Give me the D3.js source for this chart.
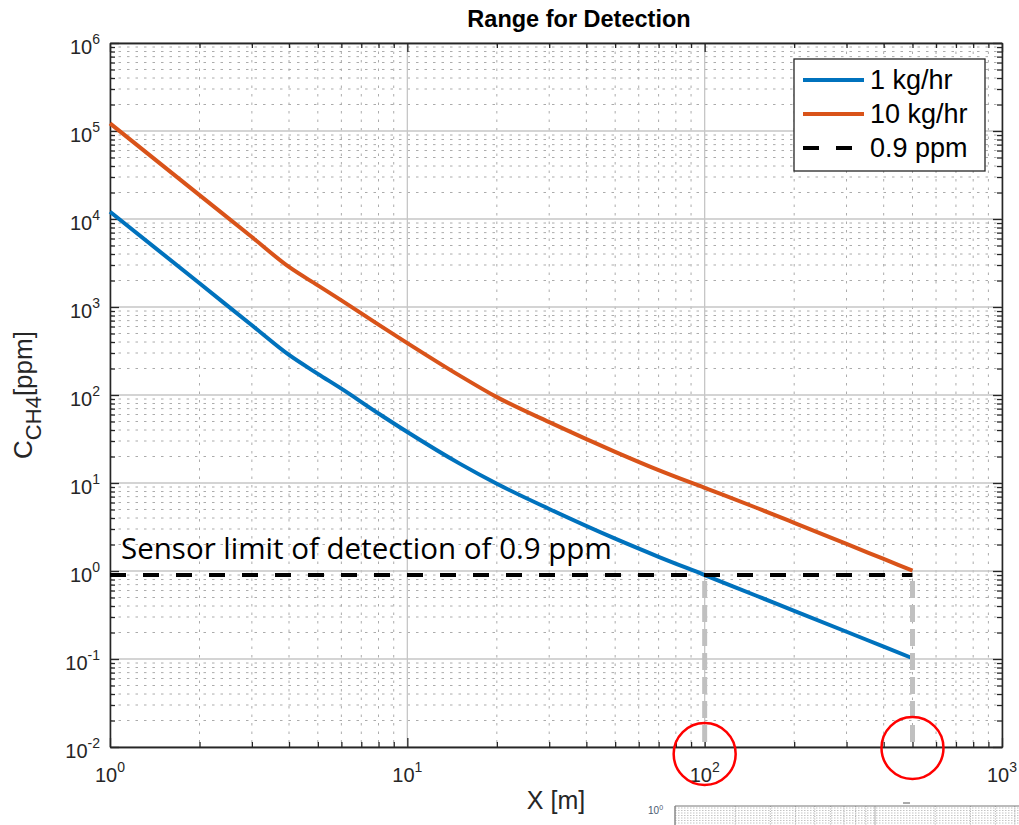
<!DOCTYPE html>
<html>
<head>
<meta charset="utf-8">
<script src="https://cdn.jsdelivr.net/npm/d3@7"></script>
<style>
    body { margin: 0; background: #fff; }
    svg { display: block; }
</style>
</head>
<body>
<div class="chart"></div>
<script>
// distances [m] and concentrations [ppm]
var distance = [1, 2, 3, 4, 5, 6, 8, 10, 15, 20, 30, 50, 70, 100, 150, 200, 300, 400, 500];
var conc_1kg = [12100, 1860, 620, 285, 174, 118, 61.7, 38, 16.6, 9.8, 5.07, 2.33, 1.45, 0.9, 0.52, 0.353, 0.204, 0.138, 0.102];
var conc_10kg = [122000, 18700, 6240, 2850, 1760, 1190, 630, 389, 166, 94.6, 49.1, 22.6, 14.0, 8.8, 5.2, 3.53, 2.03, 1.37, 1.01];
var series_names = ["1 kg/hr", "10 kg/hr"];
var series_colors = ["#0072BD", "#D95319"];
var limit_ppm = 0.9;
var limit_label = "Sensor limit of detection of 0.9 ppm";
var limit_name = "0.9 ppm";
var range_marks = [100, 500];
var x_decades = [1, 10, 100, 1000];
var y_decades = [1e-2, 1e-1, 1, 1e1, 1e2, 1e3, 1e4, 1e5, 1e6];

var margin = { top: 43, right: 17, bottom: 78, left: 110 },
    width = 1019 - margin.left - margin.right,
    height = 825 - margin.top - margin.bottom;

var font = "'Liberation Sans', Arial, Helvetica, sans-serif";

var root = d3.select(".chart")
    .append("svg")
    .attr("width", 1019)
    .attr("height", 825);

var svg = root.append("g")
    .attr("transform", "translate(" + margin.left + "," + margin.top + ")");

var x = d3.scaleLog().domain([1, 1000]).range([0, width]);
var y = d3.scaleLog().domain([1e-2, 1e6]).range([height, 0]);

function minors(decades) {
    var out = [];
    for (var i = 0; i < decades.length - 1; i++) {
        for (var k = 2; k <= 9; k++) out.push(k * decades[i]);
    }
    return out;
}
var x_minor = minors(x_decades);
var y_minor = minors(y_decades);

// minor grid (dotted)
svg.selectAll(".xminor").data(x_minor).enter().append("line")
    .attr("x1", d => x(d)).attr("x2", d => x(d))
    .attr("y1", 0).attr("y2", height)
    .attr("stroke", "#ababab").attr("stroke-width", 1)
    .attr("stroke-dasharray", "2.5,6");
svg.selectAll(".yminor").data(y_minor).enter().append("line")
    .attr("x1", 0).attr("x2", width)
    .attr("y1", d => y(d)).attr("y2", d => y(d))
    .attr("stroke", "#ababab").attr("stroke-width", 1)
    .attr("stroke-dasharray", "2.5,6");

// major grid
svg.selectAll(".xmajor").data(x_decades).enter().append("line")
    .attr("x1", d => x(d)).attr("x2", d => x(d))
    .attr("y1", 0).attr("y2", height)
    .attr("stroke", "#c6c6c6").attr("stroke-width", 1.3);
svg.selectAll(".ymajor").data(y_decades).enter().append("line")
    .attr("x1", 0).attr("x2", width)
    .attr("y1", d => y(d)).attr("y2", d => y(d))
    .attr("stroke", "#c6c6c6").attr("stroke-width", 1.3);

// axes, ticks pointing inward on all four sides
function tickAxis(axis, values, size) {
    return axis.tickValues(values).tickSize(-size).tickSizeOuter(0).tickFormat("");
}
var axes = [
    [function () { return d3.axisBottom(x); }, "translate(0," + height + ")"],
    [function () { return d3.axisTop(x); }, "translate(0,0)"],
    [function () { return d3.axisLeft(y); }, "translate(0,0)"],
    [function () { return d3.axisRight(y); }, "translate(" + width + ",0)"]
];
axes.forEach((a, i) => {
    var major = i < 2 ? x_decades : y_decades;
    var minor = i < 2 ? x_minor : y_minor;
    svg.append("g").attr("transform", a[1]).call(tickAxis(a[0](), minor, 5));
    svg.append("g").attr("transform", a[1]).call(tickAxis(a[0](), major, 9));
});
svg.selectAll(".domain, .tick line").attr("stroke", "#262626").attr("stroke-width", 1.3);

// tick labels with superscript exponents
var ylab = svg.selectAll(".ylab").data(y_decades).enter().append("text")
    .attr("x", -10).attr("y", d => y(d) + 11)
    .attr("text-anchor", "end")
    .style("font-family", font).style("font-size", "20px").attr("fill", "#262626");
ylab.append("tspan").text("10");
ylab.append("tspan").attr("dy", -10).style("font-size", "14px")
    .text(d => String(Math.round(Math.log10(d))));

var xlab = svg.selectAll(".xlab").data(x_decades).enter().append("text")
    .attr("x", d => x(d)).attr("y", height + 35)
    .attr("text-anchor", "middle")
    .style("font-family", font).style("font-size", "20px").attr("fill", "#262626");
xlab.append("tspan").text("10");
xlab.append("tspan").attr("dy", -10).style("font-size", "14px")
    .text(d => String(Math.round(Math.log10(d))));

// data lines
var line = d3.line()
    .curve(d3.curveMonotoneX)
    .x(d => x(d[0]))
    .y(d => y(d[1]));

[conc_1kg, conc_10kg].forEach((vals, i) => {
    svg.append("path")
        .datum(distance.map((d, j) => [d, vals[j]]))
        .attr("d", line)
        .attr("fill", "none")
        .attr("stroke", series_colors[i])
        .attr("stroke-width", 4)
        .attr("stroke-linejoin", "round");
});

// detection limit
svg.append("line")
    .attr("x1", x(distance[0])).attr("x2", x(distance[distance.length - 1]))
    .attr("y1", y(limit_ppm)).attr("y2", y(limit_ppm))
    .attr("stroke", "#000").attr("stroke-width", 4)
    .attr("stroke-dasharray", "16,17");

// range markers
svg.selectAll(".range").data(range_marks).enter().append("line")
    .attr("x1", d => x(d)).attr("x2", d => x(d))
    .attr("y1", y(limit_ppm) + 6).attr("y2", y(1e-2) - 4)
    .attr("stroke", "#c0c0c0").attr("stroke-width", 5)
    .attr("stroke-dasharray", "17,7");

svg.append("text")
    .attr("x", x(1) + 11).attr("y", y(limit_ppm) - 16)
    .style("font-family", "'Open Sans', 'Noto Sans', sans-serif")
    .style("font-size", "29.5px").attr("fill", "#000")
    .text(limit_label);

// title and axis labels
svg.append("text")
    .attr("x", width / 2 + 23).attr("y", -16)
    .attr("text-anchor", "middle")
    .style("font-family", font).style("font-size", "23.5px").style("font-weight", "bold")
    .text("Range for Detection");

svg.append("text")
    .attr("x", width / 2).attr("y", height + 62)
    .attr("text-anchor", "middle")
    .style("font-family", font).style("font-size", "25px").attr("fill", "#262626")
    .text("X [m]");

var ytitle = svg.append("text")
    .attr("transform", "translate(" + (32 - margin.left) + "," + (height / 2) + ") rotate(-90)")
    .attr("text-anchor", "middle")
    .style("font-family", font).style("font-size", "26px").attr("fill", "#262626");
ytitle.append("tspan").text("C");
ytitle.append("tspan").attr("dy", 9).style("font-size", "22px").text("CH4");
ytitle.append("tspan").attr("dy", -9).text("[ppm]");

// legend
var legend = svg.append("g").attr("transform", "translate(" + (794 - margin.left) + "," + (59 - margin.top) + ")");
legend.append("rect")
    .attr("width", 191).attr("height", 112)
    .attr("fill", "#fff").attr("stroke", "#262626").attr("stroke-width", 1.3);
var entries = [
    { name: series_names[0], color: series_colors[0], dash: null },
    { name: series_names[1], color: series_colors[1], dash: null },
    { name: limit_name, color: "#000", dash: "16,17" }
];
var legend_row = legend.selectAll(".entry").data(entries).enter().append("g")
    .attr("transform", (d, i) => "translate(0," + (21 + i * 34) + ")");
legend_row.append("line")
    .attr("x1", 9).attr("x2", 70)
    .attr("stroke", d => d.color).attr("stroke-width", 4)
    .attr("stroke-dasharray", d => d.dash);
legend_row.append("text")
    .attr("x", 76).attr("y", 9)
    .style("font-family", font).style("font-size", "27px").attr("fill", "#000")
    .text(d => d.name);

// red circles around the detection ranges
svg.selectAll(".circ").data(range_marks).enter().append("circle")
    .attr("cx", d => x(d)).attr("cy", (d, i) => height + (i == 0 ? 7 : 1))
    .attr("r", 31)
    .attr("fill", "none").attr("stroke", "#ff0000").attr("stroke-width", 2.5);

// cropped strip of another figure at the bottom edge
var strip = root.append("g").attr("transform", "translate(675,806)");
var sx = d3.scaleLog().domain([1, 1000]).range([0, 600]);
strip.selectAll(".sv").data(x_minor.concat(x_decades)).enter().append("line")
    .attr("x1", d => sx(d)).attr("x2", d => sx(d))
    .attr("y1", 0).attr("y2", 19)
    .attr("stroke", "#999").attr("stroke-width", 0.8)
    .attr("stroke-dasharray", d => x_decades.indexOf(d) >= 0 ? null : "1,1.5");
strip.selectAll(".sh").data(d3.range(2, 19, 2.5)).enter().append("line")
    .attr("x1", 0).attr("x2", 344)
    .attr("y1", d => d).attr("y2", d => d)
    .attr("stroke", "#aaa").attr("stroke-width", 0.7)
    .attr("stroke-dasharray", "1.5,1.5");
strip.append("path")
    .attr("d", "M0,19V0H344")
    .attr("fill", "none").attr("stroke", "#777").attr("stroke-width", 1);
strip.append("line")
    .attr("x1", 228).attr("x2", 235).attr("y1", -3).attr("y2", -3)
    .attr("stroke", "#555").attr("stroke-width", 1);
var stext = root.append("text")
    .attr("x", 648).attr("y", 814)
    .style("font-family", font).style("font-size", "10px").attr("fill", "#4a5a70");
stext.append("tspan").text("10");
stext.append("tspan").attr("dy", -4).style("font-size", "7px").text("0");
</script>
</body>
</html>
